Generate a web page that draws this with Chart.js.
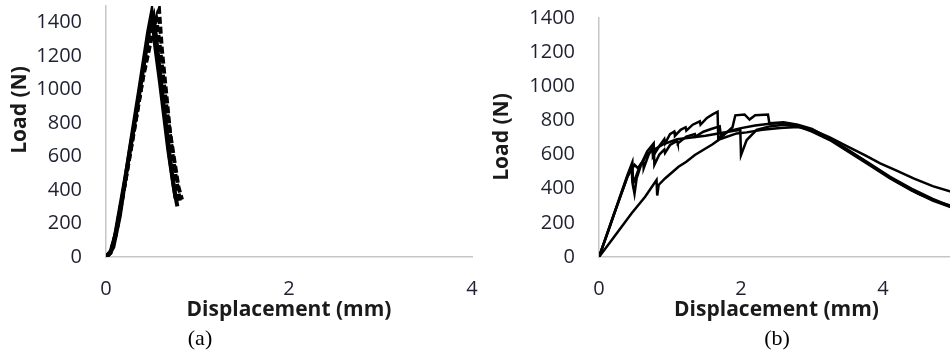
<!DOCTYPE html>
<html>
<head>
<meta charset="utf-8">
<script src="https://cdn.jsdelivr.net/npm/chart.js@4/dist/chart.umd.min.js"></script>
<style>
  html, body { margin: 0; padding: 0; width: 950px; height: 353px; overflow: hidden; background: #fff; }
  #wrapA { position: absolute; left: 0; top: 0; width: 480px; height: 353px; }
  #wrapB { position: absolute; left: 480px; top: 0; width: 480px; height: 353px; }
  .cap { position: absolute; top: 338px; transform: translate(-50%, -50%); font-family: "Liberation Serif", "DejaVu Serif", serif; font-size: 22px; color: #000; white-space: nowrap; }
</style>
</head>
<body>
<div id="wrapA"><canvas id="chartA" width="480" height="353"></canvas></div>
<div id="wrapB"><canvas id="chartB" width="480" height="353"></canvas></div>
<div class="cap" style="left:200px">(a)</div>
<div class="cap" style="left:777px">(b)</div>
<script>
// ---------- Panel (a) data ----------
const aDisp1 = [0, 0.04, 0.08, 0.15, 0.26, 0.37, 0.46, 0.50, 0.54, 0.59, 0.68, 0.74, 0.78];
const aLoad1 = [0, 20, 60, 242, 643, 1023, 1344, 1460, 1250, 1044, 643, 420, 302];
const aDisp2 = [0, 0.05, 0.10, 0.20, 0.30, 0.40, 0.48, 0.52, 0.55, 0.62, 0.70, 0.76];
const aLoad2 = [0, 30, 130, 440, 760, 1100, 1380, 1440, 1300, 950, 580, 350];
const aDisp3 = [0, 0.06, 0.12, 0.22, 0.32, 0.42, 0.52, 0.58, 0.61, 0.70, 0.79, 0.83];
const aLoad3 = [0, 40, 170, 480, 800, 1130, 1380, 1474, 1244, 743, 422, 343];
const aDisp4 = [0, 0.05, 0.10, 0.20, 0.30, 0.40, 0.50, 0.55, 0.58, 0.66, 0.75, 0.81];
const aLoad4 = [0, 25, 120, 420, 740, 1060, 1320, 1420, 1300, 900, 520, 330];

// ---------- Panel (b) data ----------
const bDisp1 = [0, 0.15, 0.30, 0.40, 0.47, 0.48, 0.52, 0.58, 0.62, 0.63, 0.70, 0.75, 0.76, 0.85, 0.92, 0.93, 1.00, 1.06, 1.07, 1.15, 1.22, 1.23, 1.32, 1.42, 1.43, 1.52, 1.60, 1.67, 1.68, 1.75, 1.85, 2.00, 2.20, 2.40, 2.60, 2.80, 3.00, 3.20, 3.50, 3.80, 4.10, 4.40, 4.70, 5.00];
const bLoad1 = [0, 175, 360, 480, 555, 430, 470, 540, 560, 520, 600, 640, 590, 650, 690, 665, 720, 735, 710, 745, 760, 740, 775, 795, 775, 815, 835, 851, 690, 720, 740, 755, 770, 780, 785, 770, 745, 700, 630, 550, 470, 400, 340, 290];
const bDisp2 = [0, 0.20, 0.40, 0.46, 0.47, 0.50, 0.53, 0.60, 0.68, 0.77, 0.78, 0.85, 0.92, 0.93, 1.00, 1.10, 1.11, 1.23, 1.35, 1.36, 1.47, 1.58, 1.70, 1.72, 1.80, 1.88, 1.92, 2.05, 2.12, 2.20, 2.38, 2.40, 2.60, 2.80, 3.00, 3.30, 3.60, 3.90, 4.20, 4.50, 4.80, 5.00];
const bLoad2 = [0, 235, 470, 535, 440, 370, 460, 550, 620, 666, 540, 600, 630, 610, 656, 680, 665, 705, 720, 705, 734, 750, 765, 700, 730, 760, 830, 835, 805, 830, 835, 783, 790, 775, 750, 680, 600, 520, 440, 370, 320, 295];
const bDisp3 = [0, 0.18, 0.46, 0.65, 0.81, 0.82, 0.84, 0.93, 1.12, 1.23, 1.35, 1.60, 1.70, 1.94, 2.08, 2.30, 2.55, 2.80, 3.01, 3.25, 3.49, 3.75, 3.96, 4.20, 4.43, 4.70, 5.00];
const bLoad3 = [0, 100, 256, 353, 451, 360, 422, 460, 529, 558, 598, 660, 690, 724, 730, 745, 756, 762, 744, 700, 650, 595, 549, 505, 461, 415, 378];
const bDisp4 = [0, 0.20, 0.40, 0.50, 0.55, 0.70, 0.90, 1.10, 1.30, 1.50, 1.70, 1.90, 1.99, 2.00, 2.08, 2.22, 2.40, 2.60, 2.80, 3.00, 3.25, 3.50, 3.80, 4.10, 4.40, 4.70, 5.00];
const bLoad4 = [0, 240, 470, 540, 520, 610, 660, 690, 700, 710, 725, 740, 744, 597, 685, 744, 765, 775, 765, 735, 685, 620, 540, 460, 390, 330, 285];

// ---------- Axis settings ----------
const xTicksA = [0, 2, 4];
const yTicksAll = [0, 200, 400, 600, 800, 1000, 1200, 1400];
const xTicksB = [0, 2, 4];

const xTitle = 'Displacement (mm)';
const yTitle = 'Load (N)';

function pts(xs, ys) { return xs.map((x, i) => ({ x: x, y: ys[i] })); }

const yTitlePlugin = {
  id: 'yTitleText',
  afterDraw(chart, args, opts) {
    const ctx = chart.ctx;
    ctx.save();
    ctx.translate(opts.x, opts.y);
    ctx.rotate(-Math.PI / 2);
    ctx.font = 'bold 21px "Open Sans"';
    ctx.fillStyle = '#1a1a1a';
    ctx.textAlign = 'center';
    ctx.textBaseline = 'middle';
    ctx.fillText(opts.text, 0, 0);
    ctx.restore();
  }
};

const tickFont = { family: '"Open Sans"', size: 20 };
const titleFont = { family: '"Open Sans"', size: 21, weight: 'bold' };
const axisGrey = '#c6c6c6';
const tickColor = '#1f2030';

function makeChart(id, datasets, cfg) {
  return new Chart(document.getElementById(id), {
    type: 'scatter',
    data: { datasets: datasets },
    plugins: [yTitlePlugin],
    options: {
      responsive: false,
      animation: false,
      events: [],
      layout: { padding: { left: 0, right: cfg.padRight, top: cfg.padTop, bottom: 30 } },
      plugins: {
        legend: { display: false },
        tooltip: { enabled: false },
        yTitleText: { text: yTitle, x: cfg.yTitleX, y: cfg.yTitleY }
      },
      elements: { point: { radius: 0 }, line: { tension: 0 } },
      scales: {
        x: {
          type: 'linear', min: 0, max: cfg.xMax,
          afterBuildTicks: s => { s.ticks = cfg.xTicks.map(v => ({ value: v })); },
          afterFit: s => { s.height = 66; s.paddingRight = 0; },
          grid: { display: false, drawTicks: true, tickLength: 20 },
          border: { display: true, color: axisGrey, width: 1.5 },
          ticks: { font: tickFont, color: tickColor, padding: 0, maxRotation: 0, callback: v => String(v) },
          title: { display: true, text: xTitle, font: titleFont, color: '#1a1a1a', padding: { top: 0, bottom: 0 } }
        },
        y: {
          type: 'linear', min: 0, max: cfg.yMax,
          afterBuildTicks: s => { s.ticks = yTicksAll.map(v => ({ value: v })); },
          afterFit: s => { s.width = cfg.yWidth; s.paddingTop = 0; s.paddingBottom = 0; },
          grid: { display: false, drawTicks: true, tickLength: 24 },
          border: { display: true, color: axisGrey, width: 1.5 },
          ticks: { font: tickFont, color: tickColor, padding: 0, callback: v => String(v) }
        }
      }
    }
  });
}

const aSets = [
  { data: pts(aDisp1, aLoad1), showLine: true, borderColor: '#000', borderWidth: 4 },
  { data: pts(aDisp2, aLoad2), showLine: true, borderColor: '#000', borderWidth: 4 },
  { data: pts(aDisp3, aLoad3), showLine: true, borderColor: '#000', borderWidth: 4, borderDash: [7, 3] },
  { data: pts(aDisp4, aLoad4), showLine: true, borderColor: '#000', borderWidth: 4, borderDash: [7, 3] }
];
const bSets = [
  { data: pts(bDisp1, bLoad1), showLine: true, borderColor: '#000', borderWidth: 2.5 },
  { data: pts(bDisp2, bLoad2), showLine: true, borderColor: '#000', borderWidth: 2.5 },
  { data: pts(bDisp3, bLoad3), showLine: true, borderColor: '#000', borderWidth: 2.5 },
  { data: pts(bDisp4, bLoad4), showLine: true, borderColor: '#000', borderWidth: 2.5 }
];

makeChart('chartA', aSets, { xMax: 4, yMax: 1500, xTicks: xTicksA, padRight: 8, padTop: 6, yWidth: 106, yTitleX: 20, yTitleY: 110 });
makeChart('chartB', bSets, { xMax: 5, yMax: 1400, xTicks: xTicksB, padRight: 6, padTop: 18, yWidth: 119, yTitleX: 22, yTitleY: 137 });
</script>
</body>
</html>
